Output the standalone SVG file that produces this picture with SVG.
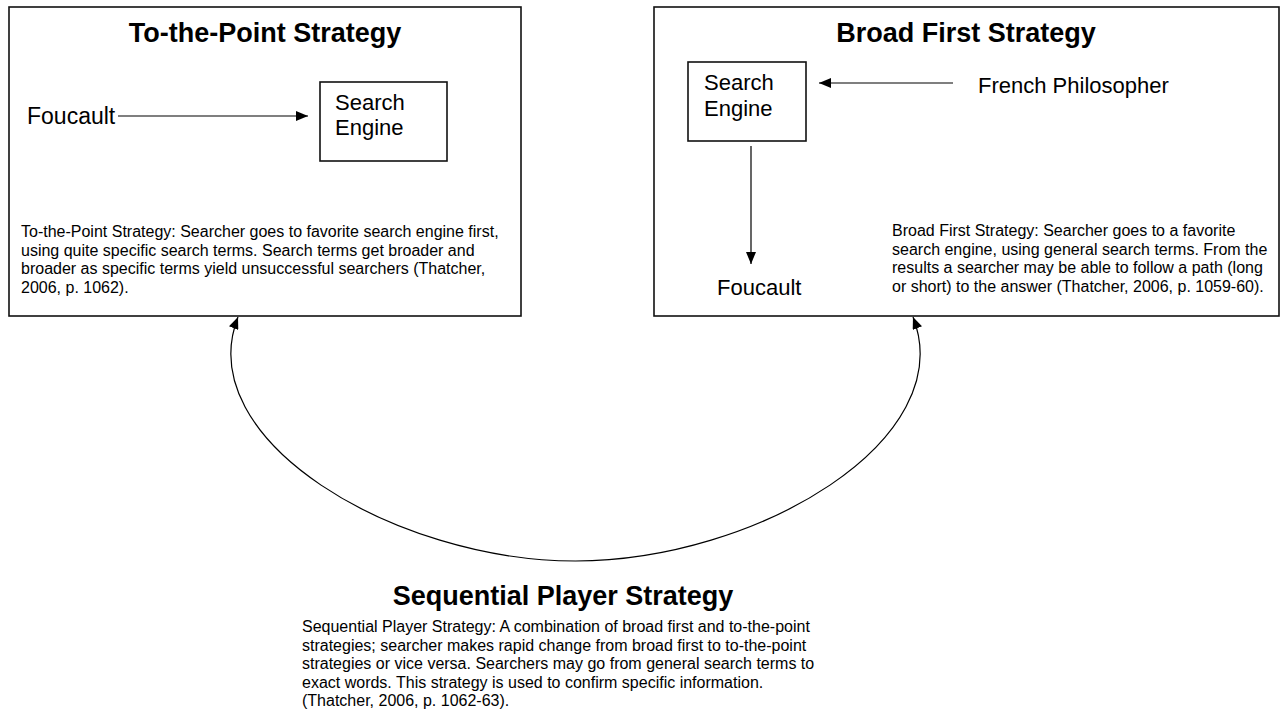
<svg xmlns="http://www.w3.org/2000/svg" width="1281" height="711" viewBox="0 0 1281 711">
<style>
text { font-family: "Liberation Sans", Arial, sans-serif; fill: #000; }
.title { font-size: 27px; font-weight: bold; text-anchor: middle; }
.lbl { font-size: 22px; }
.desc { font-size: 16px; }
.box { fill: #fff; stroke: #111; stroke-width: 1.6; }
.conn { fill: none; stroke: #000; stroke-width: 1.2; }
</style>
<defs>
<marker id="ah" viewBox="0 0 12 10" refX="12" refY="5" markerWidth="12" markerHeight="10" markerUnits="userSpaceOnUse" orient="auto-start-reverse">
<path d="M0,0 L12,5 L0,10 Z" fill="#000"/>
</marker>
</defs>
<rect width="1281" height="711" fill="#fff"/>
<g id="to-the-point">
<rect class="box" x="9" y="7" width="512" height="309"/>
<text class="title" x="265" y="42">To-the-Point Strategy</text>
<text class="desc" x="21" y="237">To-the-Point Strategy: Searcher goes to favorite search engine first,</text>
<text class="desc" x="21" y="255.5">using quite specific search terms. Search terms get broader and</text>
<text class="desc" x="21" y="274">broader as specific terms yield unsuccessful searchers (Thatcher,</text>
<text class="desc" x="21" y="292.5">2006, p. 1062).</text>
</g>
<g id="tp-foucault"><text class="lbl" x="27" y="124" style="font-size:23px">Foucault</text></g>
<g id="tp-engine">
<rect class="box" x="320" y="82" width="127" height="79"/>
<text class="lbl" x="335" y="110">Search</text>
<text class="lbl" x="335" y="135">Engine</text>
</g>
<g id="broad-first">
<rect class="box" x="654" y="7" width="625" height="309"/>
<text class="title" x="966" y="42">Broad First Strategy</text>
<text class="desc" x="892" y="236">Broad First Strategy: Searcher goes to a favorite</text>
<text class="desc" x="892" y="254.5">search engine, using general search terms. From the</text>
<text class="desc" x="892" y="273">results a searcher may be able to follow a path (long</text>
<text class="desc" x="892" y="291.5">or short) to the answer (Thatcher, 2006, p. 1059-60).</text>
</g>
<g id="bf-engine">
<rect class="box" x="688" y="62" width="118" height="79"/>
<text class="lbl" x="704" y="90">Search</text>
<text class="lbl" x="704" y="116">Engine</text>
</g>
<g id="bf-philosopher"><text class="lbl" x="978" y="93">French Philosopher</text></g>
<g id="bf-foucault"><text class="lbl" x="717" y="295">Foucault</text></g>
<g id="sequential">
<text class="title" x="563" y="605">Sequential Player Strategy</text>
<text class="desc" x="302" y="632">Sequential Player Strategy: A combination of broad first and to-the-point</text>
<text class="desc" x="302" y="650.5">strategies; searcher makes rapid change from broad first to to-the-point</text>
<text class="desc" x="302" y="669">strategies or vice versa. Searchers may go from general search terms to</text>
<text class="desc" x="302" y="687.5">exact words. This strategy is used to confirm specific information.</text>
<text class="desc" x="302" y="706">(Thatcher, 2006, p. 1062-63).</text>
</g>
<g id="connectors">
<line class="conn" x1="118" y1="116" x2="308" y2="116" marker-end="url(#ah)"/>
<line class="conn" x1="953" y1="83" x2="819" y2="83" marker-end="url(#ah)"/>
<line class="conn" x1="751" y1="146" x2="751" y2="264" marker-end="url(#ah)"/>
<path class="conn" d="M 238 317 C 190 440 395 561 575.5 561 C 756 561 961 440 913 317" marker-start="url(#ah)" marker-end="url(#ah)"/>
</g>
</svg>
